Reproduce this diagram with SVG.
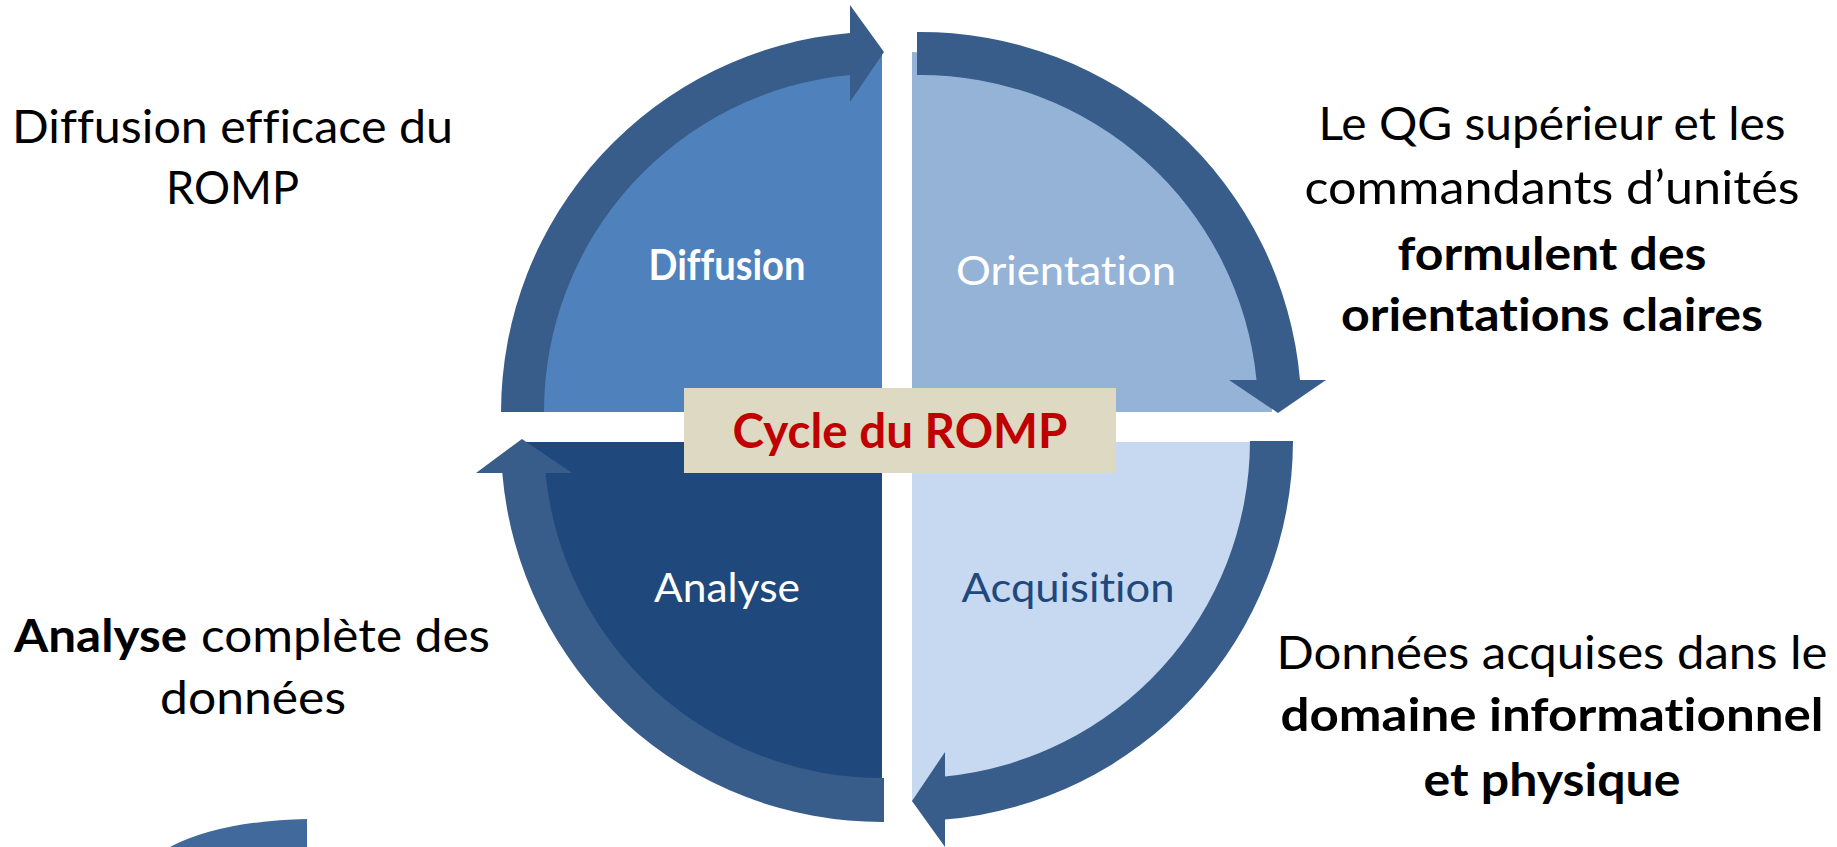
<svg xmlns="http://www.w3.org/2000/svg" width="1837" height="847" viewBox="0 0 1837 847">
<style>
text{font-variant-ligatures:none;font-feature-settings:"liga" 0,"clig" 0,"dlig" 0;}
.t{font-family:Lato,"Open Sans",sans-serif;fill:#000;}
.b{font-weight:bold;}
.side{font-size:46px;}
.band{fill:#385D8A;}
.ql{font-family:Lato,"Open Sans",sans-serif;font-size:41.5px;}
</style>
<rect width="1837" height="847" fill="#fff"/>
<g id="quad-diffusion">
<path d="M882,412 L522,412 A360,360 0 0 1 882,52 Z" fill="#4F81BD"/>
<text class="ql b" x="727" y="280" text-anchor="middle" font-size="36" fill="#fff" textLength="157" lengthAdjust="spacingAndGlyphs">Diffusion</text>
</g>
<g id="quad-orientation">
<path d="M912,412 L912,52 A360,360 0 0 1 1272,412 Z" fill="#95B3D7"/>
<text class="ql" x="1066" y="285" text-anchor="middle" fill="#fff" textLength="220" lengthAdjust="spacingAndGlyphs">Orientation</text>
</g>
<g id="quad-acquisition">
<path d="M912,442 L1272,442 A360,360 0 0 1 912,802 Z" fill="#C6D9F1"/>
<text class="ql" x="1068" y="602" text-anchor="middle" fill="#1F497D" textLength="213" lengthAdjust="spacingAndGlyphs">Acquisition</text>
</g>
<g id="quad-analyse">
<path d="M882,442 L882,802 A360,360 0 0 1 522,442 Z" fill="#1F497D"/>
<text class="ql" x="727" y="602" text-anchor="middle" fill="#fff" textLength="146" lengthAdjust="spacingAndGlyphs">Analyse</text>
</g>
<g id="connectors">
<path class="band" d="M501,412 A381,381 0 0 1 850,33 L850,5 L884,52 L850,102 L850,75 A338,338 0 0 0 544,412 Z"/>
<path class="band" d="M917,32 A381,381 0 0 1 1300,380 L1326,380 L1278,413 L1229,380 L1256.5,380 A338,338 0 0 0 917,75 Z"/>
<path class="band" d="M1293,441 A381,381 0 0 1 945,819.6 L945,847 L912,801 L945,752 L945,776.4 A338,338 0 0 0 1250,441 Z"/>
<path class="band" d="M884,822 A381,381 0 0 1 502.3,473 L476,473 L522,439 L572,473 L545.4,473 A338,338 0 0 0 884,778 Z" fill="#3A5F8C"/>
</g>
<g id="center">
<rect x="684" y="388" width="432" height="85" fill="#DDD9C3"/>
<text class="t b" x="900" y="448" text-anchor="middle" font-size="47" style="fill:#C00000" textLength="335" lengthAdjust="spacingAndGlyphs">Cycle du ROMP</text>
</g>
<g id="note-diffusion">
<text class="t side" x="232.5" y="143" text-anchor="middle" textLength="441" lengthAdjust="spacingAndGlyphs">Diffusion efficace du</text>
<text class="t side" x="232.5" y="204" text-anchor="middle" textLength="133" lengthAdjust="spacingAndGlyphs">ROMP</text>
</g>
<g id="note-orientation">
<text class="t side" x="1552" y="140" text-anchor="middle" textLength="467" lengthAdjust="spacingAndGlyphs">Le QG supérieur et les</text>
<text class="t side" x="1552" y="204" text-anchor="middle" textLength="495" lengthAdjust="spacingAndGlyphs">commandants d’unités</text>
<text class="t side b" x="1552" y="270" text-anchor="middle" textLength="309" lengthAdjust="spacingAndGlyphs">formulent des</text>
<text class="t side b" x="1552" y="331" text-anchor="middle" textLength="422" lengthAdjust="spacingAndGlyphs">orientations claires</text>
</g>
<g id="note-analyse">
<text class="t side" y="652"><tspan class="b" x="14" textLength="173" lengthAdjust="spacingAndGlyphs">Analyse</tspan><tspan x="201" textLength="289" lengthAdjust="spacingAndGlyphs">complète des</tspan></text>
<text class="t side" x="253" y="714" text-anchor="middle" textLength="186" lengthAdjust="spacingAndGlyphs">données</text>
</g>
<g id="note-acquisition">
<text class="t side" x="1552" y="669" text-anchor="middle" textLength="551" lengthAdjust="spacingAndGlyphs">Données acquises dans le</text>
<text class="t side b" x="1552" y="731" text-anchor="middle" textLength="543" lengthAdjust="spacingAndGlyphs">domaine informationnel</text>
<text class="t side b" x="1552" y="796" text-anchor="middle" textLength="257" lengthAdjust="spacingAndGlyphs">et physique</text>
</g>
<g id="partial-shape">
<path d="M307,819 L307,847 L170,847 Q220,821 307,819 Z" fill="#41699B"/>
</g>
</svg>
